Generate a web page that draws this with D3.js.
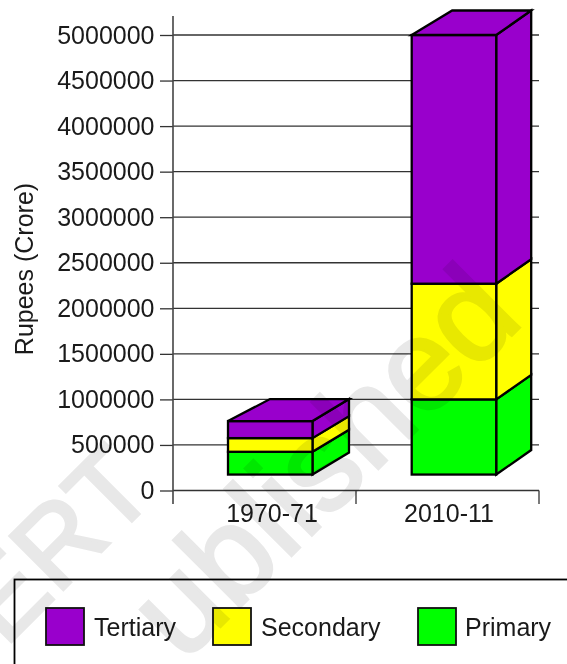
<!DOCTYPE html>
<html><head><meta charset="utf-8">
<script src="https://cdn.jsdelivr.net/npm/d3@7"></script>
<style>html,body{margin:0;padding:0;background:#fff;overflow:hidden}svg{display:block}text{font-family:"Liberation Sans",Arial,sans-serif;fill:#1a1a1a}</style>
</head><body><svg id="c" width="567" height="664"></svg>
<script>
const categories = ["1970-71","2010-11"];
const seriesNames = ["Primary","Secondary","Tertiary"];
const seriesColors = ["#00ff00","#ffff00","#9900cc"];
const legendOrder = ["Tertiary","Secondary","Primary"];
const baseValue = 175000;
const primary = [250000,825000];
const secondary = [150000,1270000];
const tertiary = [187000,2730000];
const yTicks = [0,500000,1000000,1500000,2000000,2500000,3000000,3500000,4000000,4500000,5000000];
const depthX = [36.5,35];
const depthY = [22,24.5];
const watermark = [["ERT",5,648,110],["ublished",183,664,130]];

const svg = d3.select("#c");
const left=173, right=539, y0=490.5, y1=35;
const y = d3.scaleLinear().domain([0,5000000]).range([y0,y1]);
const x = d3.scaleBand().domain(categories).range([left,right]);
const barW = 84.5;

// grid + ticks
const gy = svg.append("g").attr("transform",`translate(${left},0)`)
 .call(d3.axisLeft(y).tickValues(yTicks).tickFormat(d3.format("d")).tickSizeInner(13).tickSizeOuter(0).tickPadding(5.5));
gy.select(".domain").remove();
gy.selectAll("line").attr("stroke","#333").attr("stroke-width",1.3);
gy.selectAll("text").attr("font-size",25).style("fill","#1a1a1a");
svg.append("g").selectAll("line").data(yTicks).join("line")
 .attr("x1",left).attr("x2",right).attr("y1",d=>y(d)).attr("y2",d=>y(d))
 .attr("stroke","#333").attr("stroke-width",1.3);
// axes
svg.append("line").attr("x1",left).attr("x2",left).attr("y1",16).attr("y2",504).attr("stroke","#444").attr("stroke-width",1.6);
svg.append("g").selectAll("line").data([x.step(),x.step()*2]).join("line")
 .attr("x1",d=>left+d).attr("x2",d=>left+d).attr("y1",y0).attr("y2",504).attr("stroke","#333").attr("stroke-width",1.3);
svg.append("g").selectAll("text").data(categories).join("text")
 .attr("x",(d,i)=>[272,449][i]).attr("y",522).attr("text-anchor","middle").attr("font-size",25).text(d=>d);
svg.append("text").attr("transform","translate(33,269) rotate(-90)").attr("text-anchor","middle").attr("font-size",25).text("Rupees (Crore)");

// bars
const barX=[228,411.7];
const topShift=5.5;
const stack=[primary,secondary,tertiary];
categories.forEach((c,i)=>{
  const dx=depthX[i],dy=depthY[i],X=barX[i];
  let cum=baseValue;
  const g=svg.append("g").attr("stroke","#000").attr("stroke-width",2.3).attr("stroke-linejoin","miter");
  stack.forEach((s,k)=>{
    const b=y(cum), t=y(cum+s[i]); cum+=s[i];
    g.append("path").attr("fill",seriesColors[k]).attr("d",`M${X+barW},${b}L${X+barW+dx},${b-dy}L${X+barW+dx},${t-dy}L${X+barW},${t}Z`);
    g.append("rect").attr("x",X).attr("y",t).attr("width",barW).attr("height",b-t).attr("fill",seriesColors[k]);
    if(k==2) g.append("path").attr("fill",seriesColors[k]).attr("d",`M${X},${t}L${X+dx+topShift},${t-dy}L${X+barW+dx},${t-dy}L${X+barW},${t}Z`);
  });
});

// legend
svg.append("rect").attr("x",14.5).attr("y",579.5).attr("width",600).attr("height",120).attr("fill","none").attr("stroke","#000").attr("stroke-width",1.8);
const lg=svg.append("g");
const swatchX=[46,213,418], labelX=[94,261,465];
legendOrder.forEach((n,i)=>{
  lg.append("rect").attr("x",swatchX[i]).attr("y",608).attr("width",38).attr("height",37)
   .attr("fill",seriesColors[seriesNames.indexOf(n)]).attr("stroke","#111").attr("stroke-width",1.8);
  lg.append("text").attr("x",labelX[i]).attr("y",636).attr("font-size",25).text(n);
});

// watermark, multiplied over everything
svg.append("g").style("mix-blend-mode","multiply").selectAll("text").data(watermark).join("text")
  .attr("transform",d=>`translate(${d[1]},${d[2]}) rotate(-45)`)
  .attr("font-size",d=>d[3]).style("fill","#e8e8e8").style("stroke","#e8e8e8").style("stroke-width",3).text(d=>d[0]);
</script></body></html>
